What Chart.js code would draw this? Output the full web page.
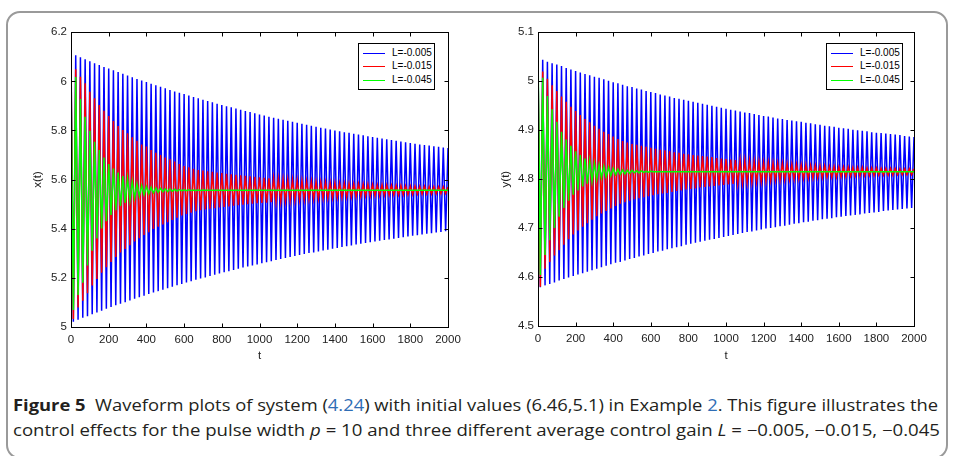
<!DOCTYPE html>
<html><head><meta charset="utf-8">
<script src="https://cdn.jsdelivr.net/npm/chart.js@4.4.0/dist/chart.umd.min.js"></script>
<style>
html,body{margin:0;padding:0;background:#fff;}
body{width:955px;height:456px;position:relative;overflow:hidden;font-family:"Liberation Sans",Arial,sans-serif;}
#frame{position:absolute;left:6px;top:11px;width:942px;height:448px;border:2px solid #9a9a9a;border-radius:14px;box-sizing:border-box;}
canvas{position:absolute;top:0;}
#c1{left:0;}
#c2{left:470px;}
.legend{position:absolute;top:43px;width:75px;height:45px;border:1px solid #000;background:#fff;font:10px "Liberation Sans",Arial,sans-serif;color:#000;}
.legend .sw{position:absolute;left:4px;width:22px;height:1px;}
.legend .lb{position:absolute;left:33px;height:12px;line-height:12px;white-space:nowrap;}
.cap{position:absolute;left:13px;white-space:nowrap;font-family:"Open Sans",sans-serif;font-size:16px;color:#231f20;transform-origin:0 50%;line-height:20px;}
.cap b{font-weight:700;}
.cap .lk{color:#2f6db5;}
.cap i{font-style:italic;}
</style>
</head><body>
<div id="frame"></div>
<canvas id="c1" width="470" height="375"></canvas>
<canvas id="c2" width="485" height="375"></canvas>
<div class="legend" id="lg1" style="left:358px;"></div>
<div class="legend" id="lg2" style="left:826px;"></div>
<div class="cap" id="cap1" style="top:395px;"><b>Figure 5</b>&nbsp; Waveform plots of system (<span class="lk">4.24</span>) with initial values (6.46,5.1) in Example <span class="lk">2</span>. This figure illustrates the</div>
<div class="cap" id="cap2" style="top:420px;">control effects for the pulse width <i>p</i> = 10 and three different average control gain <i>L</i> = −0.005, −0.015, −0.045</div>
<script>
// pulse period along t (peaks at multiples, troughs half-way)
const PERIOD = 25;
const seriesLabels = ['L=-0.005', 'L=-0.015', 'L=-0.045'];
const seriesColors = ['#0000ff', '#ff0000', '#00ff00'];

// ---- x(t): peaks (t = 0,25,...,2000) and troughs (t = 12.5, 37.5, ...) ----
const xBlueHi = [6.114,6.106,6.098,6.090,6.082,6.074,6.067,6.059,6.052,6.045,6.038,6.031,6.024,6.017,6.010,6.003,5.997,5.990,5.984,5.978,5.972,5.965,5.959,5.954,5.948,5.942,5.936,5.931,5.925,5.920,5.915,5.909,5.904,5.899,5.894,5.889,5.884,5.879,5.875,5.870,5.865,5.861,5.856,5.852,5.848,5.843,5.839,5.835,5.831,5.827,5.823,5.819,5.815,5.811,5.808,5.804,5.800,5.797,5.793,5.790,5.786,5.783,5.780,5.776,5.773,5.770,5.767,5.764,5.761,5.758,5.755,5.752,5.749,5.746,5.743,5.741,5.738,5.735,5.733,5.730,5.728];
const xBlueLo = [5.020,5.028,5.036,5.043,5.051,5.058,5.065,5.073,5.080,5.087,5.094,5.100,5.107,5.114,5.120,5.126,5.133,5.139,5.145,5.151,5.157,5.163,5.169,5.174,5.180,5.185,5.191,5.196,5.201,5.207,5.212,5.217,5.222,5.226,5.231,5.236,5.241,5.245,5.250,5.254,5.259,5.263,5.267,5.272,5.276,5.280,5.284,5.288,5.292,5.296,5.300,5.303,5.307,5.311,5.314,5.318,5.321,5.325,5.328,5.331,5.335,5.338,5.341,5.344,5.347,5.350,5.353,5.356,5.359,5.362,5.365,5.368,5.371,5.373,5.376,5.379,5.381,5.384,5.386,5.389];
const xRedHi = [6.084,6.049,6.019,5.992,5.958,5.931,5.904,5.880,5.859,5.838,5.818,5.802,5.788,5.772,5.758,5.743,5.734,5.720,5.709,5.700,5.690,5.682,5.673,5.663,5.655,5.650,5.644,5.639,5.636,5.633,5.631,5.628,5.626,5.623,5.621,5.619,5.617,5.615,5.613,5.611,5.609,5.607,5.605,5.604,5.602,5.600,5.599,5.598,5.596,5.595,5.593,5.592,5.591,5.590,5.589,5.587,5.586,5.585,5.584,5.583,5.582,5.582,5.581,5.580,5.579,5.578,5.578,5.577,5.576,5.575,5.575,5.574,5.573,5.573,5.572,5.572,5.571,5.571,5.570,5.570,5.569];
const xRedLo = [5.031,5.078,5.106,5.136,5.168,5.194,5.220,5.242,5.264,5.284,5.302,5.317,5.332,5.347,5.361,5.374,5.385,5.398,5.407,5.417,5.426,5.435,5.444,5.453,5.460,5.465,5.471,5.475,5.478,5.481,5.483,5.486,5.488,5.490,5.493,5.495,5.497,5.499,5.501,5.503,5.505,5.506,5.508,5.510,5.511,5.513,5.514,5.516,5.517,5.518,5.520,5.521,5.522,5.523,5.524,5.525,5.526,5.527,5.528,5.529,5.530,5.531,5.532,5.533,5.534,5.534,5.535,5.536,5.537,5.537,5.538,5.538,5.539,5.540,5.540,5.541,5.541,5.542,5.542,5.543];
const xGreenHi = [6.000,6.018,5.928,5.856,5.799,5.754,5.720,5.690,5.663,5.645,5.628,5.614,5.603,5.591,5.582,5.575,5.571,5.568,5.566,5.564,5.562,5.561,5.560,5.559,5.558,5.558,5.557,5.557,5.557,5.556,5.556,5.556,5.556,5.556,5.556,5.556,5.556,5.556,5.556,5.556,5.556,5.556,5.556,5.556,5.556,5.556,5.556,5.556,5.556,5.556,5.556,5.556,5.556,5.556,5.556,5.556,5.556,5.556,5.556,5.556,5.556,5.556,5.556,5.556,5.556,5.556,5.556,5.556,5.556,5.556,5.556,5.556,5.556,5.556,5.556,5.556,5.556,5.556,5.556,5.556,5.556];
const xGreenLo = [5.068,5.129,5.179,5.250,5.310,5.360,5.400,5.430,5.455,5.475,5.492,5.505,5.516,5.525,5.532,5.538,5.542,5.545,5.548,5.550,5.551,5.552,5.553,5.554,5.554,5.555,5.555,5.555,5.556,5.556,5.556,5.556,5.556,5.556,5.556,5.556,5.556,5.556,5.556,5.556,5.556,5.556,5.556,5.556,5.556,5.556,5.556,5.556,5.556,5.556,5.556,5.556,5.556,5.556,5.556,5.556,5.556,5.556,5.556,5.556,5.556,5.556,5.556,5.556,5.556,5.556,5.556,5.556,5.556,5.556,5.556,5.556,5.556,5.556,5.556,5.556,5.556,5.556,5.556,5.556];

// ---- y(t) ----
const yBlueHi = [5.047,5.044,5.040,5.037,5.034,5.031,5.027,5.024,5.021,5.018,5.015,5.012,5.009,5.007,5.004,5.001,4.998,4.996,4.993,4.990,4.988,4.985,4.983,4.980,4.978,4.976,4.973,4.971,4.969,4.966,4.964,4.962,4.960,4.958,4.956,4.954,4.952,4.950,4.948,4.946,4.944,4.942,4.940,4.938,4.936,4.935,4.933,4.931,4.929,4.928,4.926,4.924,4.923,4.921,4.920,4.918,4.917,4.915,4.914,4.912,4.911,4.909,4.908,4.907,4.905,4.904,4.903,4.901,4.900,4.899,4.898,4.896,4.895,4.894,4.893,4.892,4.891,4.890,4.888,4.887,4.886];
const yBlueLo = [4.579,4.583,4.586,4.589,4.593,4.596,4.599,4.602,4.605,4.608,4.611,4.614,4.617,4.620,4.623,4.626,4.629,4.631,4.634,4.637,4.639,4.642,4.644,4.647,4.649,4.652,4.654,4.657,4.659,4.661,4.663,4.666,4.668,4.670,4.672,4.674,4.676,4.678,4.680,4.682,4.684,4.686,4.688,4.690,4.692,4.693,4.695,4.697,4.699,4.700,4.702,4.704,4.705,4.707,4.709,4.710,4.712,4.713,4.715,4.716,4.718,4.719,4.720,4.722,4.723,4.725,4.726,4.727,4.728,4.730,4.731,4.732,4.733,4.735,4.736,4.737,4.738,4.739,4.740,4.741];
const yRedHi = [5.037,5.020,5.005,4.992,4.980,4.969,4.958,4.948,4.939,4.931,4.923,4.916,4.909,4.903,4.897,4.892,4.887,4.882,4.878,4.875,4.872,4.870,4.868,4.866,4.864,4.862,4.860,4.859,4.857,4.855,4.854,4.852,4.851,4.849,4.848,4.847,4.846,4.845,4.843,4.842,4.841,4.840,4.839,4.838,4.838,4.837,4.836,4.835,4.834,4.834,4.833,4.832,4.832,4.831,4.830,4.830,4.829,4.829,4.828,4.828,4.827,4.827,4.826,4.826,4.825,4.825,4.825,4.824,4.824,4.824,4.823,4.823,4.823,4.822,4.822,4.822,4.822,4.821,4.821,4.821,4.821];
const yRedLo = [4.580,4.617,4.631,4.644,4.655,4.666,4.677,4.687,4.695,4.703,4.710,4.717,4.724,4.730,4.735,4.740,4.745,4.750,4.753,4.756,4.759,4.761,4.763,4.765,4.767,4.769,4.771,4.772,4.774,4.776,4.777,4.779,4.780,4.781,4.783,4.784,4.785,4.786,4.787,4.788,4.789,4.790,4.791,4.792,4.793,4.794,4.795,4.795,4.796,4.797,4.798,4.798,4.799,4.799,4.800,4.801,4.801,4.802,4.802,4.803,4.803,4.804,4.804,4.804,4.805,4.805,4.806,4.806,4.806,4.807,4.807,4.807,4.808,4.808,4.808,4.808,4.809,4.809,4.809,4.809];
const yGreenHi = [5.068,5.007,4.970,4.943,4.917,4.897,4.881,4.868,4.857,4.849,4.842,4.837,4.832,4.829,4.826,4.824,4.822,4.820,4.819,4.818,4.818,4.817,4.817,4.816,4.816,4.815,4.815,4.815,4.815,4.815,4.815,4.815,4.815,4.815,4.815,4.815,4.815,4.815,4.815,4.815,4.815,4.815,4.815,4.815,4.815,4.815,4.815,4.815,4.815,4.815,4.815,4.815,4.815,4.815,4.815,4.815,4.815,4.815,4.815,4.815,4.815,4.815,4.815,4.815,4.815,4.815,4.815,4.815,4.815,4.815,4.815,4.815,4.815,4.815,4.815,4.815,4.815,4.815,4.815,4.815,4.815];
const yGreenLo = [4.604,4.645,4.675,4.700,4.723,4.741,4.756,4.768,4.777,4.785,4.791,4.796,4.800,4.803,4.805,4.807,4.809,4.810,4.811,4.812,4.813,4.813,4.814,4.814,4.815,4.815,4.815,4.815,4.815,4.815,4.815,4.815,4.815,4.815,4.815,4.815,4.815,4.815,4.815,4.815,4.815,4.815,4.815,4.815,4.815,4.815,4.815,4.815,4.815,4.815,4.815,4.815,4.815,4.815,4.815,4.815,4.815,4.815,4.815,4.815,4.815,4.815,4.815,4.815,4.815,4.815,4.815,4.815,4.815,4.815,4.815,4.815,4.815,4.815,4.815,4.815,4.815,4.815,4.815,4.815];

function toPoints(hi, lo) {
  const pts = [];
  for (let k = 0; k < hi.length; k++) {
    pts.push({x: k * PERIOD, y: hi[k]});
    if (k < lo.length) pts.push({x: k * PERIOD + PERIOD / 2, y: lo[k]});
  }
  return pts;
}
function makeSets(pairs) {
  return pairs.map((p, i) => ({
    label: seriesLabels[i], data: toPoints(p[0], p[1]),
    borderColor: seriesColors[i], borderWidth: 1.5, pointRadius: 0,
    fill: false, tension: 0, order: 3 - i
  }));
}

const frameTicks = {
  id: 'frameTicks',
  afterDatasetsDraw(chart) {
    const {ctx, chartArea: a, scales: {x, y}} = chart;
    const L = Math.round(a.left) + 0.5, R = Math.round(a.right) + 0.5;
    const T = Math.round(a.top) + 0.5, B = Math.round(a.bottom) + 0.5;
    ctx.save();
    ctx.strokeStyle = '#000'; ctx.lineWidth = 1;
    ctx.beginPath();
    x.ticks.forEach(t => {
      const px = Math.round(x.getPixelForValue(t.value)) + 0.5;
      ctx.moveTo(px, B); ctx.lineTo(px, B - 4);
      ctx.moveTo(px, T); ctx.lineTo(px, T + 4);
    });
    y.ticks.forEach(t => {
      const py = Math.round(y.getPixelForValue(t.value)) + 0.5;
      ctx.moveTo(L, py); ctx.lineTo(L + 4, py);
      ctx.moveTo(R, py); ctx.lineTo(R - 4, py);
    });
    ctx.stroke();
    ctx.strokeRect(L, T, R - L, B - T);
    ctx.restore();
  }
};

const FONT = {family: '"Liberation Sans", Arial, sans-serif', size: 11.5};
const plainNum = v => String(Math.round(v * 1000) / 1000);
function makeChart(id, sets, yMin, yMax, yStep, yTitle, yW, xH, rightPad, titlePad) {
  return new Chart(document.getElementById(id), {
    type: 'line',
    data: {datasets: sets},
    options: {
      responsive: false, animation: false, devicePixelRatio: 1,
      layout: {padding: {top: 32.3, right: rightPad, left: 0, bottom: 0}},
      plugins: {legend: {display: false}, tooltip: {enabled: false}},
      scales: {
        x: {
          type: 'linear', min: 0, max: 2000,
          ticks: {stepSize: 200, font: FONT, color: '#222', padding: 6, maxRotation: 0, autoSkip: false, callback: plainNum},
          grid: {display: false, drawTicks: false}, border: {display: false},
          title: {display: true, text: 't', font: FONT, color: '#222', padding: {top: 0, bottom: 12}},
          afterFit(s) { s.height = xH; }
        },
        y: {
          type: 'linear', min: yMin, max: yMax,
          ticks: {stepSize: yStep, font: FONT, color: '#222', padding: 4, autoSkip: false, callback: plainNum},
          grid: {display: false, drawTicks: false}, border: {display: false},
          title: {display: true, text: yTitle, font: FONT, color: '#222', padding: {top: titlePad, bottom: 0}},
          afterFit(s) { s.width = yW; }
        }
      }
    },
    plugins: [frameTicks]
  });
}

makeChart('c1', makeSets([[xBlueHi, xBlueLo], [xRedHi, xRedLo], [xGreenHi, xGreenLo]]),
  5, 6.2, 0.2, 'x(t)', 71, 48.3, 22, 31);
makeChart('c2', makeSets([[yBlueHi, yBlueLo], [yRedHi, yRedLo], [yGreenHi, yGreenLo]]),
  4.5, 5.1, 0.1, 'y(t)', 68, 49, 41, 28.6);

// legends (MATLAB style boxes inside the plots), rows at whole-pixel offsets
const legendRowY = [9, 22, 36];
['lg1', 'lg2'].forEach(id => {
  const box = document.getElementById(id);
  seriesLabels.forEach((lab, i) => {
    const sw = document.createElement('div');
    sw.className = 'sw';
    sw.style.top = legendRowY[i] + 'px';
    sw.style.backgroundColor = seriesColors[i];
    const lb = document.createElement('div');
    lb.className = 'lb';
    lb.style.top = (legendRowY[i] - 6) + 'px';
    lb.textContent = lab;
    box.appendChild(sw);
    box.appendChild(lb);
  });
});

// fit caption lines to the reference widths
[['cap1', 925], ['cap2', 927]].forEach(([id, w]) => {
  const el = document.getElementById(id);
  const cur = el.getBoundingClientRect().width;
  el.style.transform = 'scaleX(' + (w / cur) + ')';
});
</script>
</body></html>
